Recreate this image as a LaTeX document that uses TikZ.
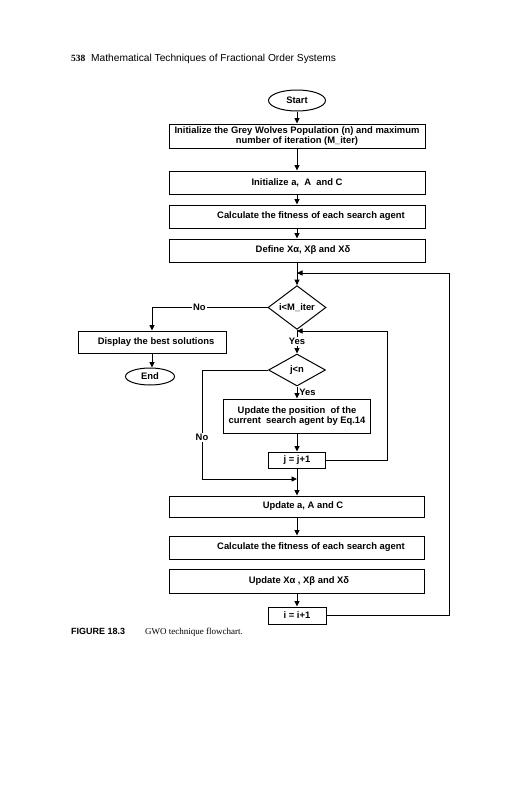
\documentclass[tikz,border=0pt]{standalone}
\usepackage{fontspec}
\setmainfont{Liberation Serif}
\setsansfont{Liberation Sans}
\usetikzlibrary{shapes.geometric,arrows.meta}
\begin{document}
\begin{tikzpicture}[x=1pt,y=-1pt,
  every node/.style={font=\sffamily\bfseries\fontsize{9.4}{10}\selectfont, inner sep=0pt},
  box/.style={draw, line width=1pt, rectangle, align=center, minimum width=256pt},
  term/.style={draw, line width=1pt, ellipse},
  dia/.style={draw, line width=1pt, diamond},
  flow/.style={line width=0.9pt, -{Triangle[length=5.5pt,width=5pt]}},
  lab/.style={fill=white, inner sep=1pt}
]
\useasboundingbox[fill=white] (0,0) rectangle (531,800);

% header
\node[anchor=base west, font=\rmfamily\bfseries\fontsize{9.5}{11}\selectfont] (pg) at (71,62) {538};
\node[anchor=base west, font=\sffamily\fontsize{10.2}{12}\selectfont] (ht) at (91,62) {Mathematical Techniques of Fractional Order Systems};

% main column
\node[term, minimum width=57pt, minimum height=21pt] (start) at (297,100.5) {Start};
\node[box, minimum height=24pt] (b1) at (297,136) {Initialize the Grey Wolves Population (n) and maximum\\number of iteration (M\_iter)};
\node[box, minimum height=23pt] (b2) at (297,182.5) {Initialize a,\ \ A\ \ and C};
\node[box, minimum height=23pt] (b3) at (297,216.5) {\hspace*{28pt}Calculate the fitness of each search agent};
\node[box, minimum height=23pt] (b4) at (297,250.5) {\hspace*{12pt}Define Xα, Xβ and Xδ};
\coordinate (L1) at (297,273);
\node[dia, minimum width=58pt, minimum height=31pt] (d1) at (297,307.5) {i<M\_iter};

\node[box, minimum width=148pt, minimum height=22pt] (disp) at (152,342) {\hspace*{8pt}Display the best solutions};
\node[term, minimum width=49pt, minimum height=17pt] (end) at (150,376.5) {End};

\coordinate (L2) at (297,331);
\node[dia, minimum width=57pt, minimum height=32pt] (d2) at (297,370) {j<n};
\node[box, minimum width=147pt, minimum height=34pt] (upd) at (297,416) {Update the position\ \ of the\\current\ \ search agent by Eq.14};
\node[box, minimum width=57pt, minimum height=16pt] (jj) at (297,460) {j = j+1};
\coordinate (J) at (297,479);
\coordinate (nx) at (202,479);
\coordinate (r2) at (387,331);

\node[box, minimum width=255pt, minimum height=21pt] (ua) at (297,506.5) {\hspace*{12pt}Update a, A and C};
\node[box, minimum width=255pt, minimum height=23pt] (b6) at (297,547.5) {\hspace*{28pt}Calculate the fitness of each search agent};
\node[box, minimum width=255pt, minimum height=24pt] (b7) at (297,581) {\hspace*{4pt}Update Xα , Xβ and Xδ};
\node[box, minimum width=58pt, minimum height=17pt] (ii) at (297,615.5) {i = i+1};
\coordinate (r1) at (449,273);

% connectors
\draw[flow] (start) -- (b1);
\draw[flow] (b1) -- (b2);
\draw[flow] (b2) -- (b3);
\draw[flow] (b3) -- (b4);
\draw[flow] (b4) -- (d1);
\draw[flow] (d1.west) -- node[lab, pos=0.59]{No} (disp.north |- d1.west) -- (disp.north);
\draw[flow] (disp.south) -- (disp.south |- end.north);
\draw[flow] (d1.south) -- node[lab]{Yes} (d2.north);
\draw[flow] (d2.south) -- node[anchor=west, xshift=2pt]{Yes} (upd.north);
\draw[flow] (upd) -- (jj);
\draw[flow] (jj) -- (ua);
\draw[flow] (d2.west) -| node[lab, pos=0.81]{No} (nx) -- (J);
\draw[flow] (jj.east) -| (r2) -- (L2);
\draw[flow] (ua) -- (b6);
\draw[flow] (b7) -- (ii);
\draw[flow] (ii.east) -| (r1) -- (L1);

% caption
\node[anchor=base west, font=\sffamily\bfseries\fontsize{9}{10}\selectfont] (cap1) at (71,634) {FIGURE 18.3};
\node[anchor=base west, font=\rmfamily\fontsize{9}{10}\selectfont] (cap2) at (145,634) {GWO technique flowchart.};
\end{tikzpicture}
\end{document}
